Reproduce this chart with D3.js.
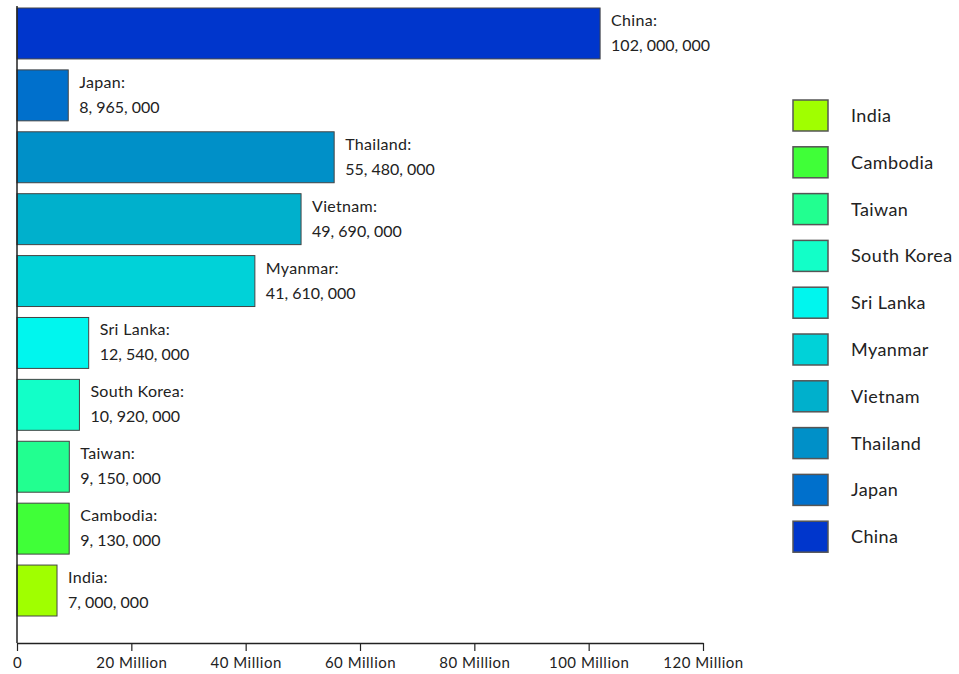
<!DOCTYPE html>
<html>
<head>
<meta charset="utf-8">
<script src="https://cdn.jsdelivr.net/npm/d3@7"></script>
<style>
  body { margin: 0; background: #fff; }
  svg { font-family: Lato, "Open Sans", sans-serif; }
</style>
</head>
<body>
<script>
// data, top to bottom as drawn
var countries = ["China", "Japan", "Thailand", "Vietnam", "Myanmar", "Sri Lanka", "South Korea", "Taiwan", "Cambodia", "India"];
var values = [102000000, 8965000, 55480000, 49690000, 41610000, 12540000, 10920000, 9150000, 9130000, 7000000];
var colors = ["#0036cc", "#0070cc", "#0090c8", "#00b0cc", "#00d2d8", "#00f6ee", "#12ffc8", "#22ff90", "#40ff38", "#a0ff00"];
var tickValues = [0, 20000000, 40000000, 60000000, 80000000, 100000000, 120000000];
var tickLabels = ["0", "20 Million", "40 Million", "60 Million", "80 Million", "100 Million", "120 Million"];

var width = 959, height = 674;
var axisY = 643;

var svg = d3.select("body").append("svg")
    .attr("width", width)
    .attr("height", height);

var x = d3.scaleLinear().domain([0, 120000000]).range([17, 703]);
var y = d3.scaleBand().domain(countries).range([8, 616])
    .paddingInner(0.177).paddingOuter(0);

var data = countries.map(function(c, i) { return {name: c, value: values[i], color: colors[i]}; });
var fmt = d3.format(",");

// bars
svg.selectAll(".bar")
    .data(data)
  .enter().append("rect")
    .attr("class", "bar")
    .attr("x", x(0))
    .attr("y", function(d) { return y(d.name); })
    .attr("width", function(d) { return x(d.value) - x(0); })
    .attr("height", y.bandwidth())
    .style("fill", function(d) { return d.color; })
    .style("stroke", "#444")
    .style("stroke-width", 1);

// value labels
var lab = svg.selectAll(".lab")
    .data(data)
  .enter().append("text")
    .attr("class", "lab")
    .attr("x", function(d) { return x(d.value) + 11; })
    .attr("y", function(d) { return y(d.name); })
    .style("font-size", "16px")
    .style("fill", "#222");
lab.append("tspan")
    .attr("x", function(d) { return x(d.value) + 11; })
    .attr("dy", 18)
    .style("letter-spacing", "0.3px")
    .text(function(d) { return d.name + ":"; });
lab.append("tspan")
    .attr("x", function(d) { return x(d.value) + 11; })
    .attr("dy", 25)
    .text(function(d) { return fmt(d.value).replace(/,/g, ", "); });

// left axis line
svg.append("line")
    .attr("x1", x(0)).attr("x2", x(0))
    .attr("y1", 6).attr("y2", axisY)
    .style("stroke", "#222").style("stroke-width", 1.5);

// x axis
var xAxis = svg.append("g")
    .attr("transform", "translate(0," + axisY + ")")
    .call(d3.axisBottom(x).tickValues(tickValues).tickSize(8).tickSizeOuter(0)
        .tickFormat(function(d, i) { return tickLabels[i]; }));
xAxis.select(".domain").style("stroke", "#222").style("stroke-width", 1.5);
xAxis.selectAll(".tick line").style("stroke", "#222").style("stroke-width", 1.2);
xAxis.selectAll(".tick text")
    .attr("y", 14)
    .style("font-family", "Lato, 'Open Sans', sans-serif")
    .style("font-size", "15px")
    .style("letter-spacing", "0.5px")
    .style("fill", "#222");

// legend (reverse order)
var legendData = data.slice().reverse();
var legend = svg.selectAll(".legend")
    .data(legendData)
  .enter().append("g")
    .attr("class", "legend")
    .attr("transform", function(d, i) { return "translate(793," + (100 + i * 46.8) + ")"; });
legend.append("rect")
    .attr("width", 35)
    .attr("height", 31)
    .style("fill", function(d) { return d.color; })
    .style("stroke", "#555")
    .style("stroke-width", 1.5);
legend.append("text")
    .attr("x", 58)
    .attr("y", 22)
    .style("font-size", "18px")
    .style("letter-spacing", "0.4px")
    .style("fill", "#222")
    .text(function(d) { return d.name; });
</script>
</body>
</html>
